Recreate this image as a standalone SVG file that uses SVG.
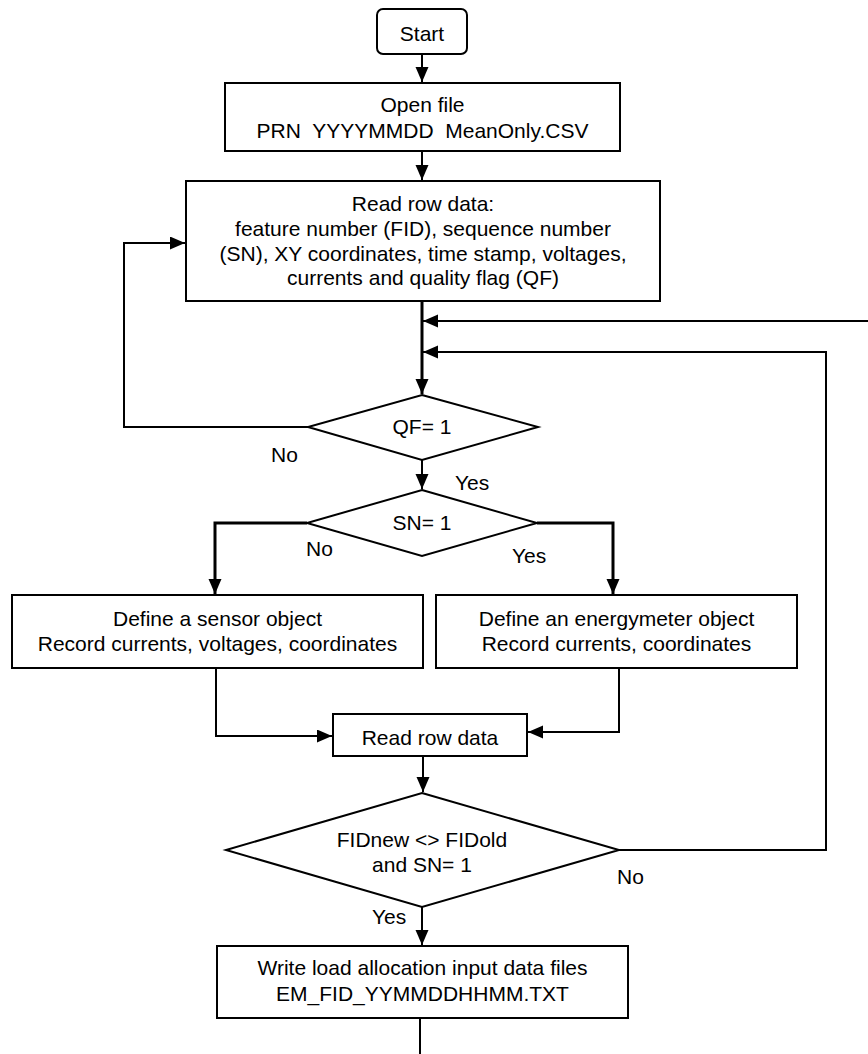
<svg xmlns="http://www.w3.org/2000/svg" width="868" height="1054" viewBox="0 0 868 1054">
<style>
.box{fill:#fff;stroke:#000;stroke-width:2}
.t{font-family:"Liberation Sans",Arial,sans-serif;font-size:21px;fill:#000;text-anchor:middle}
.l{font-family:"Liberation Sans",Arial,sans-serif;font-size:21px;fill:#000}
.c{fill:none;stroke:#000;stroke-width:2}
.c3{fill:none;stroke:#000;stroke-width:3}
</style>
<defs>
<marker id="ah" markerUnits="userSpaceOnUse" markerWidth="16" markerHeight="14" refX="15" refY="6.5" orient="auto">
<path d="M0,0 L15,6.5 L0,13 z" fill="#000"/>
</marker>
</defs>
<rect width="868" height="1054" fill="#fff"/>
<g id="connectors">
<path class="c" d="M422,54 V82" marker-end="url(#ah)"/>
<path class="c" d="M422,151 V180" marker-end="url(#ah)"/>
<path class="c" d="M308,427 H124 V243 H185" marker-end="url(#ah)"/>
<path class="c3" d="M422,301 V394" marker-end="url(#ah)"/>
<path class="c" d="M868,321 H423" marker-end="url(#ah)"/>
<path class="c" d="M619,850 H826 V352 H423" marker-end="url(#ah)"/>
<path class="c" d="M422,460 V489" marker-end="url(#ah)"/>
<path class="c3" d="M307,523 H215 V594" marker-end="url(#ah)"/>
<path class="c3" d="M537,523 H613 V594" marker-end="url(#ah)"/>
<path class="c" d="M216,668 V736 H332" marker-end="url(#ah)"/>
<path class="c" d="M619,668 V732 H528" marker-end="url(#ah)"/>
<path class="c" d="M423,756 V792" marker-end="url(#ah)"/>
<path class="c" d="M422,907 V945" marker-end="url(#ah)"/>
<path class="c" d="M420,1018 V1054"/>
</g>
<g id="start">
<rect class="box" x="377" y="9" width="90" height="45" rx="6"/>
<text class="t" x="422" y="41">Start</text>
</g>
<g id="open-file">
<rect class="box" x="225" y="83" width="395" height="68"/>
<text class="t" x="422.5" y="112">Open file</text>
<text class="t" x="422.5" y="138" xml:space="preserve">PRN  YYYYMMDD  MeanOnly.CSV</text>
</g>
<g id="read-row">
<rect class="box" x="186" y="181" width="474" height="120"/>
<text class="t" x="423" y="211">Read row data:</text>
<text class="t" x="423" y="236">feature number (FID), sequence number</text>
<text class="t" x="423" y="260.5">(SN), XY coordinates, time stamp, voltages,</text>
<text class="t" x="423" y="285">currents and quality flag (QF)</text>
</g>
<g id="qf">
<polygon class="box" points="422,395 538,427 422,460 308,427"/>
<text class="t" x="422" y="434">QF= 1</text>
<text class="l" x="271" y="462">No</text>
<text class="l" x="455" y="490">Yes</text>
</g>
<g id="sn">
<polygon class="box" points="422,490 537,523 422,556 307,523"/>
<text class="t" x="422" y="530">SN= 1</text>
<text class="l" x="306" y="556">No</text>
<text class="l" x="512" y="563">Yes</text>
</g>
<g id="sensor">
<rect class="box" x="12" y="595" width="411" height="73"/>
<text class="t" x="217.5" y="626">Define a sensor object</text>
<text class="t" x="217.5" y="651">Record currents, voltages, coordinates</text>
</g>
<g id="energymeter">
<rect class="box" x="436" y="595" width="361" height="73"/>
<text class="t" x="616.5" y="626">Define an energymeter object</text>
<text class="t" x="616.5" y="651">Record currents, coordinates</text>
</g>
<g id="read-row-data">
<rect class="box" x="333" y="714" width="194" height="42"/>
<text class="t" x="430" y="745">Read row data</text>
</g>
<g id="fid">
<polygon class="box" points="422,793 619,850 422,907 226,850"/>
<text class="t" x="422" y="847">FIDnew &lt;&gt; FIDold</text>
<text class="t" x="422" y="872">and SN= 1</text>
<text class="l" x="617" y="884">No</text>
<text class="l" x="372" y="924">Yes</text>
</g>
<g id="write">
<rect class="box" x="217" y="946" width="411" height="72"/>
<text class="t" x="422.5" y="975">Write load allocation input data files</text>
<text class="t" x="422.5" y="1001">EM_FID_YYMMDDHHMM.TXT</text>
</g>
</svg>
